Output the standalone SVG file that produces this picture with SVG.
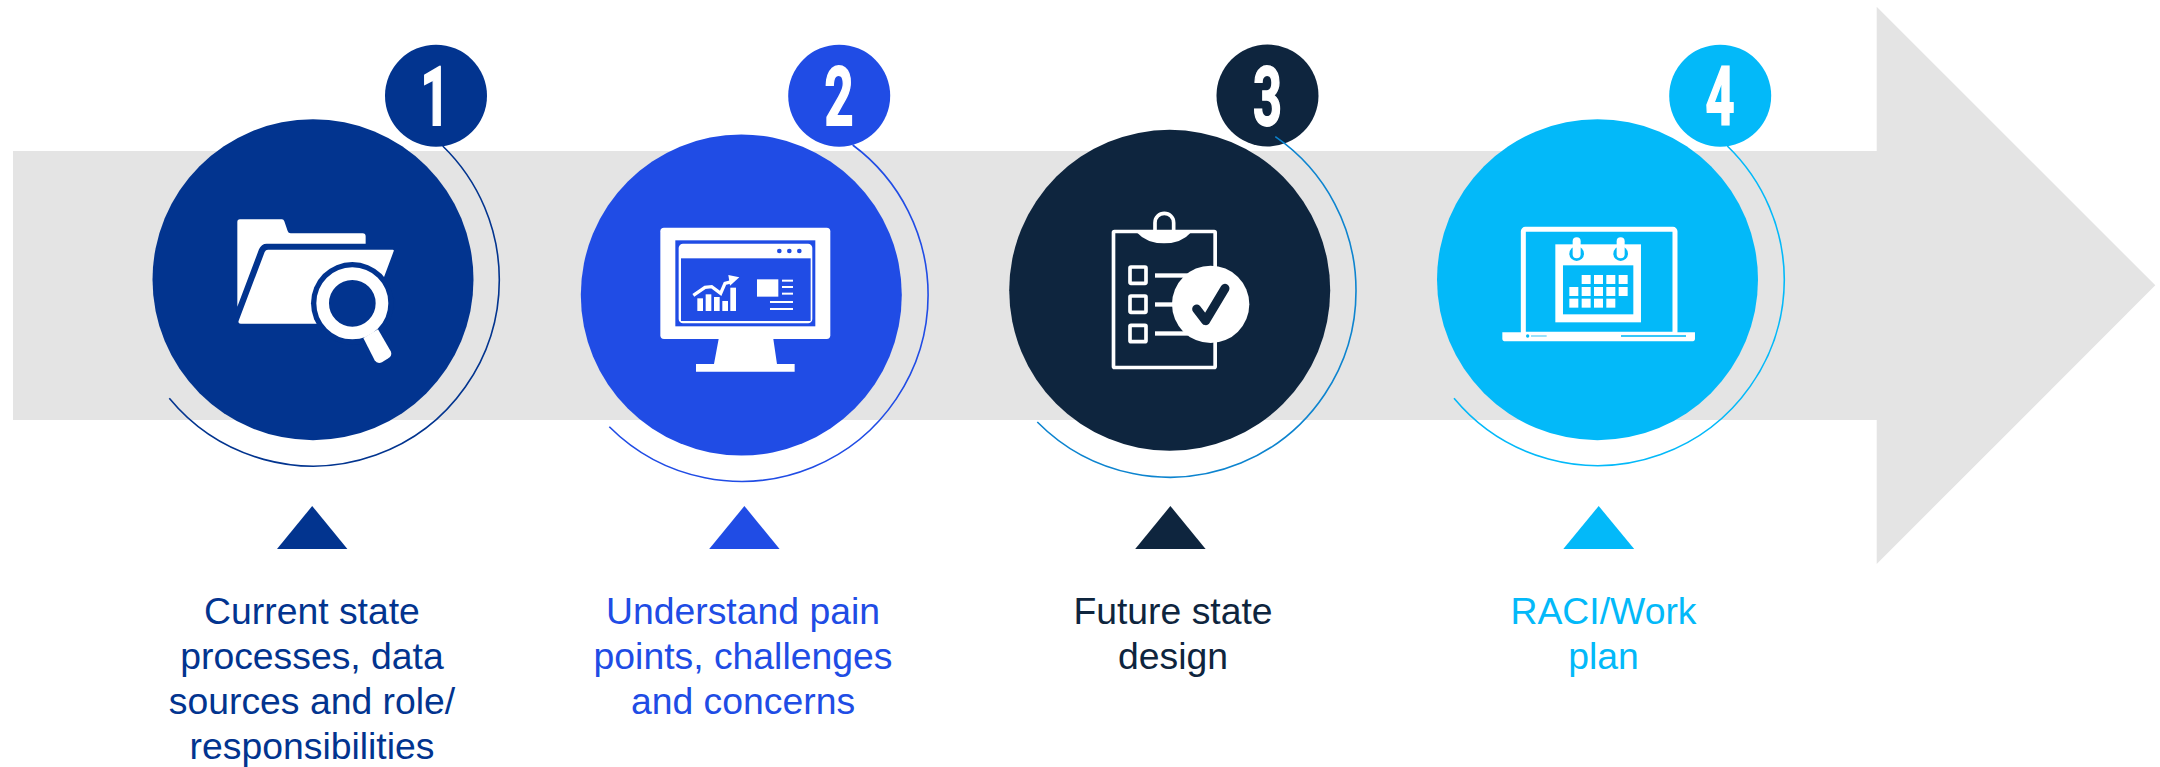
<svg xmlns="http://www.w3.org/2000/svg" width="2160" height="767" viewBox="0 0 2160 767">
<style>
.lbl{font-family:"Liberation Sans",Arial,sans-serif;font-size:37.33px;text-anchor:middle}
.num{font-family:Roboto,"Liberation Sans",sans-serif;font-weight:700;font-size:81.5px;text-anchor:middle;fill:#fff;stroke:#fff;stroke-width:1.8}
.arc{fill:none;stroke-width:1.6}
.w{fill:#fff}
.ws{fill:none;stroke:#fff}
.c1{fill:#02348f}.c2{fill:#204ce5}.c3{fill:#0e253e}.c4{fill:#03b9f9}
</style>
<path id="band-arrow" fill="#e4e4e4" d="M13 151H1876.7V6.7L2155.3 285.3L1876.7 564V420H13Z"/>
<g id="node-1">
<circle class="c1" cx="313" cy="279.7" r="160.5"/>
<circle class="c1" cx="436" cy="95.7" r="51"/>
<text class="num" transform="translate(435,125) scale(.62,1)">1</text>
<g transform="translate(220,200) scale(.3333)">
<path class="w" d="M52 66Q52 58 60 58H186Q191 58 193 64L203 93Q205 100 212 100H428Q437 100 437 109V131H140Q124 131 117 148L52 320Z"/>
<path class="w" d="M144 149H518Q523 149 521 154L470 290L450 371H62Q53 371 56 362L134 156Q137 149 144 149Z"/>
<circle class="c1" cx="397" cy="310" r="124"/>
<circle class="ws" cx="397" cy="310" r="89" stroke-width="38"/>
<path class="w" d="M430 414L474 388L513 455Q517 467 505 475L486 487Q472 493 464 481Z"/>
</g>
<path class="c1" d="M312.2 506L347.4 549H277Z"/>
<text class="lbl" fill="#02348f"><tspan x="312" y="623.6">Current state</tspan><tspan x="312" y="668.6">processes, data</tspan><tspan x="312" y="713.6">sources and role/</tspan><tspan x="312" y="758.6">responsibilities</tspan></text>
</g>
<g id="node-2">
<circle class="c2" cx="741.3" cy="295" r="160.5"/>
<circle class="c2" cx="839.2" cy="95.7" r="51"/>
<text class="num" transform="translate(839,125) scale(.62,1)">2</text>
<g transform="translate(650,215) scale(.3333)">
<rect class="w" x="31" y="38" width="510" height="334" rx="11"/>
<rect class="c2" x="76" y="76" width="420" height="258"/>
<rect class="w" x="86" y="86" width="401" height="239" rx="13"/>
<rect class="c2" x="93" y="130" width="389" height="188"/>
<circle class="c2" cx="388" cy="108" r="7"/><circle class="c2" cx="418" cy="108" r="7"/><circle class="c2" cx="448" cy="108" r="7"/>
<path class="w" d="M206 372H370L381 447H434V470H138V447H192Z"/>
<rect class="w" x="142" y="250" width="17" height="38"/><rect class="w" x="167" y="238" width="17" height="50"/><rect class="w" x="192" y="246" width="17" height="42"/><rect class="w" x="217" y="258" width="17" height="30"/><rect class="w" x="241" y="218" width="17" height="70"/>
<path class="ws" stroke-width="10" d="M130 241L165 217L185 215L212 235L225 205L245 200"/>
<path class="w" d="M235 180L268 187L240 212Z"/>
<rect class="w" x="321" y="193" width="64" height="52"/>
<rect class="w" x="396" y="194" width="33" height="6"/><rect class="w" x="396" y="213" width="33" height="6"/><rect class="w" x="396" y="233" width="33" height="6"/><rect class="w" x="360" y="258" width="69" height="6"/><rect class="w" x="360" y="279" width="69" height="6"/>
</g>
<path class="c2" d="M744.4 506L779.6 549H709.2Z"/>
<text class="lbl" fill="#204ce5"><tspan x="743" y="623.6">Understand pain</tspan><tspan x="743" y="668.6">points, challenges</tspan><tspan x="743" y="713.6">and concerns</tspan></text>
</g>
<g id="node-3">
<circle class="c3" cx="1169.7" cy="290.3" r="160.5"/>
<circle class="c3" cx="1267.5" cy="95.5" r="51"/>
<text class="num" transform="translate(1267.5,125) scale(.62,1)">3</text>
<g transform="translate(1090,200) scale(.3333)">
<rect class="ws" x="70.5" y="94.5" width="305" height="408" rx="3" stroke-width="11"/>
<path class="ws" stroke-width="11" d="M195 92V68A28 28 0 0 1 251 68V92"/>
<path class="w" d="M138 95H305Q275 130 222 130Q170 130 138 95Z"/>
<rect class="ws" x="120" y="201" width="48" height="49" rx="3" stroke-width="11"/><rect class="ws" x="120" y="288" width="48" height="49" rx="3" stroke-width="11"/><rect class="ws" x="120" y="376" width="48" height="49" rx="3" stroke-width="11"/>
<rect class="w" x="195" y="220" width="100" height="13"/><rect class="w" x="195" y="307" width="100" height="13"/><rect class="w" x="195" y="394" width="100" height="13"/>
<circle class="w" cx="362" cy="313" r="116"/>
<path fill="none" stroke="#0e253e" stroke-width="27" stroke-linecap="round" stroke-linejoin="round" d="M320 327L347 362L405 265"/>
</g>
<path class="c3" d="M1170.4 506L1205.6 549H1135.2Z"/>
<text class="lbl" fill="#0e253e"><tspan x="1173" y="623.6">Future state</tspan><tspan x="1173" y="668.6">design</tspan></text>
</g>
<g id="node-4">
<circle class="c4" cx="1597.5" cy="279.7" r="160.5"/>
<circle class="c4" cx="1720.2" cy="95.7" r="51"/>
<text class="num" transform="translate(1720,125) scale(.62,1)">4</text>
<g transform="translate(1490,215) scale(.3333)">
<rect class="ws" x="100" y="43" width="455" height="315" rx="6" stroke-width="15"/>
<path class="w" d="M37 352H615V371Q615 379 605 379H47Q37 379 37 371Z"/>
<circle class="c4" cx="113" cy="363" r="5"/>
<rect class="c4" x="123" y="361" width="47" height="4" opacity=".6"/>
<rect class="c4" x="393" y="360" width="195" height="6" opacity=".8"/>
<rect class="w" x="196" y="88" width="257" height="234"/>
<rect class="c4" x="219" y="151" width="211" height="147"/>
<circle class="c4" cx="260" cy="116" r="22"/><circle class="c4" cx="392" cy="116" r="22"/>
<rect class="w" x="248" y="67" width="24" height="63" rx="12"/><rect class="w" x="380" y="67" width="24" height="63" rx="12"/>
<g class="w">
<rect x="275" y="180" width="27" height="27"/><rect x="312" y="180" width="27" height="27"/><rect x="349" y="180" width="27" height="27"/><rect x="386" y="180" width="27" height="27"/>
<rect x="238" y="216" width="27" height="27"/><rect x="275" y="216" width="27" height="27"/><rect x="312" y="216" width="27" height="27"/><rect x="349" y="216" width="27" height="27"/><rect x="386" y="216" width="27" height="27"/>
<rect x="238" y="251" width="27" height="27"/><rect x="275" y="251" width="27" height="27"/><rect x="312" y="251" width="27" height="27"/><rect x="349" y="251" width="27" height="27"/>
</g>
</g>
<path class="c4" d="M1598.7 506L1634.2 549H1563.3Z"/>
<text class="lbl" fill="#03b9f9"><tspan x="1603.5" y="623.6">RACI/Work</tspan><tspan x="1603.5" y="668.6">plan</tspan></text>
</g>
<g id="connectors">
<path class="arc" stroke="#02348f" d="M442.7 146A186.3 186.3 0 0 1 499.3 280A186.3 186.3 0 0 1 169.3 398.3"/>
<path class="arc" stroke="#204ce5" d="M852.7 145A186.8 186.8 0 0 1 928.1 295A186.8 186.8 0 0 1 609.3 426.7"/>
<path class="arc" stroke="#0d84cf" d="M1275.3 136.7A186.3 186.3 0 0 1 1356 290.3A186.3 186.3 0 0 1 1037.3 422"/>
<path class="arc" stroke="#03b9f9" d="M1727.3 146A186.8 186.8 0 0 1 1784.3 279.7A186.8 186.8 0 0 1 1454 398.3"/>
</g>
</svg>
